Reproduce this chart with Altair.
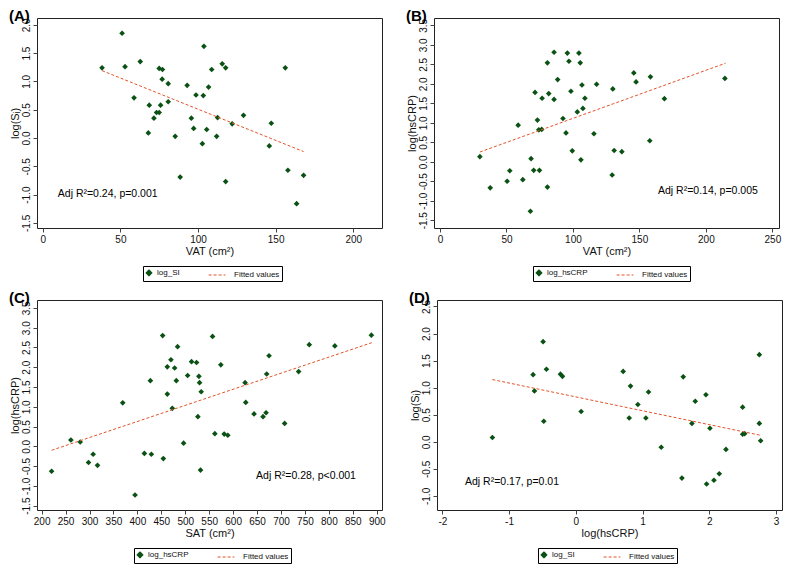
import altair as alt
import pandas as pd

GREEN = "#0a5214"
ORANGE = "#e4532a"
FONT = "Liberation Sans"

# ---------------- Panel A: VAT vs log(SI) ----------------
a_vat = [38.2, 51.1, 53.0, 62.8, 58.8, 68.6, 68.0, 71.6, 73.3, 75.0, 75.9, 75.0, 77.1, 76.9,
         80.8, 80.8, 85.3, 88.5, 93.0, 95.7, 97.2, 98.7, 103.4, 103.8, 102.8, 105.6, 106.8,
         108.8, 112.0, 112.6, 115.6, 117.8, 117.8, 122.0, 129.3, 147.2, 145.9, 156.2, 157.9,
         168.0, 163.5]
a_logsi = [1.24, 1.85, 1.26, 1.35, 0.71, 0.58, 0.09, 0.35, 0.45, 0.45, 0.58, 1.23, 1.21, 1.04,
           0.96, 0.64, 0.03, -0.69, 0.93, 0.35, 0.17, 0.76, 0.75, 1.62, -0.10, 0.15, 0.90,
           1.21, 0.03, 0.36, 1.31, 1.24, -0.77, 0.25, 0.40, 0.26, -0.14, 1.24, -0.57,
           -0.66, -1.16]
a_fit_x = [38.2, 168.0]
a_fit_y = [1.19, -0.24]

# ---------------- Panel B: VAT vs log(hsCRP) ----------------
b_vat = [30.0, 37.8, 50.5, 52.5, 58.8, 62.3, 68.0, 68.5, 70.5, 71.5, 73.3, 74.3, 74.8, 76.8,
         76.5, 80.8, 80.8, 81.8, 85.8, 85.8, 88.5, 92.5, 94.8, 95.8, 97.0, 98.5, 99.5, 103.3,
         104.5, 105.5, 106.0, 106.8, 107.5, 109.0, 117.8, 115.8, 129.5, 130.0, 131.0, 136.8,
         145.8, 147.5, 157.8, 158.3, 168.8, 214.3]
b_logcrp = [0.13, -0.67, -0.50, -0.23, 0.94, -0.46, -1.27, 0.08, -0.22, 1.78, 1.07, 0.82,
            -0.22, 1.63, 0.83, -0.65, 2.54, 1.75, 2.81, 1.60, 2.11, 1.11, 0.74, 2.79, 2.58,
            1.81, 0.28, 1.28, 2.79, 2.54, 0.05, 1.97, 1.37, 1.63, 1.99, 0.72, -0.34, 1.87,
            0.29, 0.26, 2.28, 2.05, 0.54, 2.18, 1.62, 2.14]
b_fit_x = [30.0, 214.8]
b_fit_y = [0.25, 2.53]

# ---------------- Panel C: SAT vs log(hsCRP) ----------------
c_sat = [220.8, 261.1, 280.6, 297.9, 307.6, 316.7, 369.4, 395.1, 414.6, 427.1, 429.2, 452.8,
         454.2, 462.5, 462.5, 470.1, 472.9, 477.8, 481.3, 484.0, 496.5, 504.9, 513.2, 523.6,
         526.4, 528.5, 529.9, 531.9, 533.3, 557.0, 561.8, 574.3, 581.3, 588.9, 625.0, 626.4,
         643.7, 662.5, 668.8, 670.1, 675.0, 707.6, 736.8, 759.0, 812.5, 888.8]
c_logcrp = [-0.63, 0.16, 0.11, -0.41, -0.20, -0.48, 1.10, -1.23, -0.18, 1.66, -0.20, 2.80,
            -0.31, 1.32, 2.01, 2.19, 0.96, 1.98, 1.66, 2.52, 0.08, 1.79, 2.14, 2.12, 0.75,
            1.77, 1.61, -0.60, 1.38, 2.78, 0.32, 2.06, 0.31, 0.28, 1.61, 1.11, 0.82, 0.75,
            0.85, 1.83, 2.29, 0.58, 1.89, 2.57, 2.54, 2.81]
c_fit_x = [220.8, 889.5]
c_fit_y = [-0.10, 2.62]

# ---------------- Panel D: log(hsCRP) vs log(SI) ----------------
d_logcrp = [-1.25, -0.64, -0.62, -0.49, -0.44, -0.48, -0.23, -0.20, 0.08, 0.71, 0.80, 0.82,
            0.93, 1.05, 1.09, 1.28, 1.59, 1.61, 1.74, 1.79, 1.95, 1.96, 2.01, 2.07, 2.15,
            2.25, 2.50, 2.50, 2.53, 2.75, 2.75, 2.77]
d_logsi = [0.08, 1.24, 0.94, 1.85, 1.34, 0.38, 1.25, 1.21, 0.56, 1.30, 0.44, 1.03, 0.69,
           0.44, 0.92, -0.10, -0.67, 1.20, 0.34, 0.75, 0.87, -0.78, 0.25, -0.71, -0.59,
           -0.14, 0.64, 0.14, 0.15, 1.61, 0.34, 0.02]
d_fit_x = [-1.25, 2.77]
d_fit_y = [1.15, 0.12]

# annotations (text, x, y in data units)
ann_text = ["Adj R\u00b2=0.24, p=0.001", "Adj R\u00b2=0.14, p=0.005",
            "Adj R\u00b2=0.28, p<0.001", "Adj R\u00b2=0.17, p=0.01"]
ann_x = [9.7, 164.0, 648.0, -1.66]
ann_y = [-0.99, -0.76, -0.76, -0.75]

FIT = "Fitted values"
W, H = 345, 210
MINUS_FIX = "replace(format(datum.value, '{f}'), '\u2212', '-')"


def panel(title, xs, ys, fx, fy, series, xdom, ydom, xvals, yvals, xfmt, yfmt,
          xtitle, ytitle, k, legx, legy):
    pts = pd.DataFrame({"x": xs, "y": ys, "series": [series] * len(xs)})
    fit = pd.DataFrame({"x": fx, "y": fy, "series": [FIT] * len(fx)})
    ann = pd.DataFrame({"x": [ann_x[k]], "y": [ann_y[k]], "t": [ann_text[k]]})
    dom = [series, FIT]
    leg = alt.Legend(title=None, orient="none", legendX=legx, legendY=legy,
                     direction="horizontal", strokeColor="black", padding=2,
                     labelFontSize=8, labelFont=FONT, columnPadding=26,
                     symbolStrokeWidth=1.2, labelOffset=4)
    xsc = alt.Scale(domain=xdom, nice=False, zero=False)
    ysc = alt.Scale(domain=ydom, nice=False, zero=False)
    xax = alt.Axis(values=xvals, title=xtitle, labelExpr=MINUS_FIX.format(f=xfmt),
                   labelOverlap=False, labelFlush=False, labelSeparation=-200)
    yax = alt.Axis(values=yvals, title=ytitle, labelExpr=MINUS_FIX.format(f=yfmt),
                   labelAngle=270, labelAlign="center", labelBaseline="bottom",
                   labelOverlap=False, labelFlush=False, labelSeparation=-200)
    X = alt.X("x:Q", scale=xsc, axis=xax)
    Y = alt.Y("y:Q", scale=ysc, axis=yax)
    color = alt.Color("series:N", scale=alt.Scale(domain=dom, range=[GREEN, ORANGE]), legend=leg)
    base_pts = alt.Chart(pts).mark_point(filled=True, opacity=1).encode(
        x=X, y=Y, color=color,
        shape=alt.Shape("series:N", scale=alt.Scale(domain=dom, range=["diamond", "M-2.4,0H0.4"]), legend=leg),
        size=alt.Size("series:N", scale=alt.Scale(type="point", domain=dom, range=[32, 144], padding=0), legend=leg),
    )
    line = alt.Chart(fit).mark_line(strokeWidth=1).encode(
        x=X, y=Y, color=color,
        strokeDash=alt.StrokeDash("series:N", scale=alt.Scale(domain=dom, range=[[1, 0], [3, 2]]), legend=leg),
    )
    txt = alt.Chart(ann).mark_text(align="left", baseline="middle", fontSize=10.5, font=FONT,
                                   color="black").encode(x=X, y=Y, text="t:N")
    return alt.layer(base_pts, line, txt).properties(
        width=W, height=H,
        title=alt.TitleParams(title, anchor="start", frame="bounds", fontSize=15,
                              fontWeight="bold", font=FONT, offset=-6, color="black"),
    ).resolve_scale(color="shared")


pA = panel("(A)", a_vat, a_logsi, a_fit_x, a_fit_y, "log_SI", [-3.7, 218.5], [-1.59, 2.12],
           [0, 50, 100, 150, 200], [-1.5, -1.0, -0.5, 0.0, 0.5, 1.0, 1.5, 2.0], "d", ".1f",
           "VAT (cm\u00b2)", "log(S\u1d62)", 0, 106, 248)
pB = panel("(B)", b_vat, b_logcrp, b_fit_x, b_fit_y, "log_hsCRP", [-4.5, 255], [-1.70, 3.69],
           [0, 50, 100, 150, 200, 250], [-1.5, -1.0, -0.5, 0.0, 0.5, 1.0, 1.5, 2.0, 2.5, 3.0, 3.5],
           "d", ".1f", "VAT (cm\u00b2)", "log(hsCRP)", 1, 99, 248)
pC = panel("(C)", c_sat, c_logcrp, c_fit_x, c_fit_y, "log_hsCRP", [190.3, 911], [-1.61, 3.70],
           list(range(200, 901, 50)), [-1.5, -1.0, -0.5, 0.0, 0.5, 1.0, 1.5, 2.0, 2.5, 3.0, 3.5],
           "d", ".1f", "SAT (cm\u00b2)", "log(hsCRP)", 2, 97, 248)
pD = panel("(D)", d_logcrp, d_logsi, d_fit_x, d_fit_y, "log_SI", [-2.08, 3.09], [-1.26, 2.62],
           [-2, -1, 0, 1, 2, 3], [-1.0, -0.5, 0.0, 0.5, 1.0, 1.5, 2.0, 2.5], "d", ".1f",
           "log(hsCRP)", "log(S\u1d62)", 3, 101, 248)

IND = dict(x="independent", y="independent", color="independent", shape="independent",
           size="independent", strokeDash="independent")

row1 = alt.hconcat(pA, pB, spacing=22).resolve_scale(**IND)
row2 = alt.hconcat(pC, pD, spacing=22).resolve_scale(**IND)

chart = alt.vconcat(row1, row2, spacing=8).resolve_scale(**IND).properties(
    padding={"left": 0, "top": 0, "right": 0, "bottom": 0}
).configure_view(
    stroke="#222", strokeWidth=1
).configure_axis(
    grid=False, domain=False, labelFont=FONT, titleFont=FONT, labelFontSize=10,
    titleFontSize=11, labelColor="#111", titleColor="#111", tickColor="#444",
    tickSize=4, labelPadding=2, titlePadding=1, titleFontWeight="normal",
    labelOverlap=False, labelSeparation=-200
).configure_legend(
    labelColor="#111"
)

chart.save("out.html", embed_options={"renderer": "svg", "actions": False})
